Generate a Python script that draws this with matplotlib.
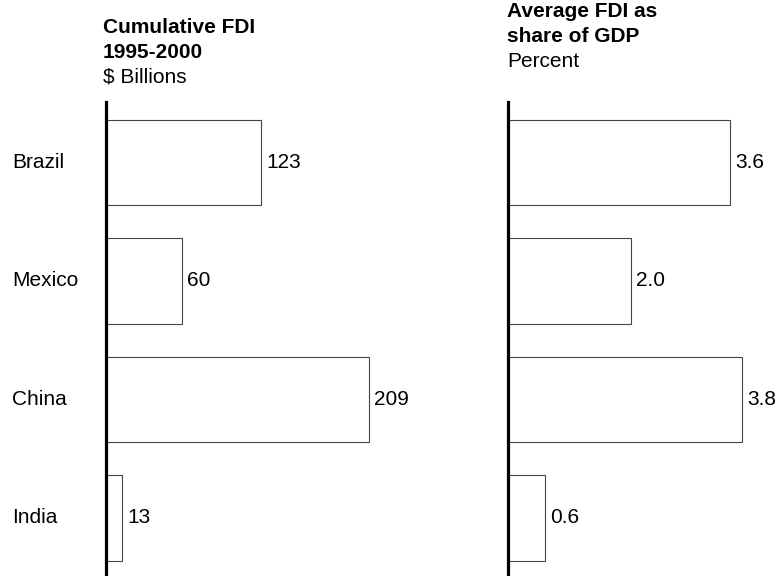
import matplotlib
matplotlib.use("Agg")
import matplotlib.pyplot as plt

plt.rcParams['font.family'] = ['Liberation Sans', 'DejaVu Sans']

countries = ["Brazil", "Mexico", "China", "India"]
fdi_cum   = [123, 60, 209, 13]        # $ billions, 1995-2000
fdi_share = [3.6, 2.0, 3.8, 0.6]      # percent of GDP
cum_labels   = ["123", "60", "209", "13"]
share_labels = ["3.6", "2.0", "3.8", "0.6"]

W, H = 780, 576
FS = 15
fig = plt.figure(figsize=(W / 100, H / 100), dpi=100)

top = (H - 102) / H
ax1 = fig.add_axes([106 / W, 0, 315 / W, top])
ax2 = fig.add_axes([508 / W, 0, 270 / W, top])

pos = list(range(len(countries)))


def panel(ax, vals, labels, xmax):
    ax.barh(pos, vals, height=0.72, color="white", edgecolor="#444444", linewidth=0.8)
    ax.set_xlim(0, xmax)
    ax.set_ylim(3.49, -0.51)
    for s in ["top", "right", "bottom"]:
        ax.spines[s].set_visible(False)
    ax.spines["left"].set_linewidth(2.3)
    ax.spines["left"].set_color("black")
    ax.set_xticks([])
    ax.set_yticks([])
    ax.patch.set_alpha(0)
    for p, v, t in zip(pos, vals, labels):
        ax.annotate(t, (v, p), xytext=(5, 0), textcoords="offset pixels",
                    va="center", ha="left", fontsize=FS)


panel(ax1, fdi_cum, cum_labels, 315 / 1.26)
panel(ax2, fdi_share, share_labels, 270 / 61.7)

for p, c in zip(pos, countries):
    ax1.annotate(c, (0, p), xycoords=("figure fraction", "data"),
                 xytext=(12, 0), textcoords="offset pixels",
                 va="center", ha="left", fontsize=FS)

# panel titles
fig.text(103 / W, 1 - 33 / H, "Cumulative FDI", fontsize=FS, weight="bold", va="baseline")
fig.text(103 / W, 1 - 58 / H, "1995-2000", fontsize=FS, weight="bold", va="baseline")
fig.text(103 / W, 1 - 83 / H, "$ Billions", fontsize=FS, va="baseline")

fig.text(507 / W, 1 - 17 / H, "Average FDI as", fontsize=FS, weight="bold", va="baseline")
fig.text(507 / W, 1 - 42 / H, "share of GDP", fontsize=FS, weight="bold", va="baseline")
fig.text(507 / W, 1 - 67 / H, "Percent", fontsize=FS, va="baseline")

fig.savefig("out.png", dpi=100)
